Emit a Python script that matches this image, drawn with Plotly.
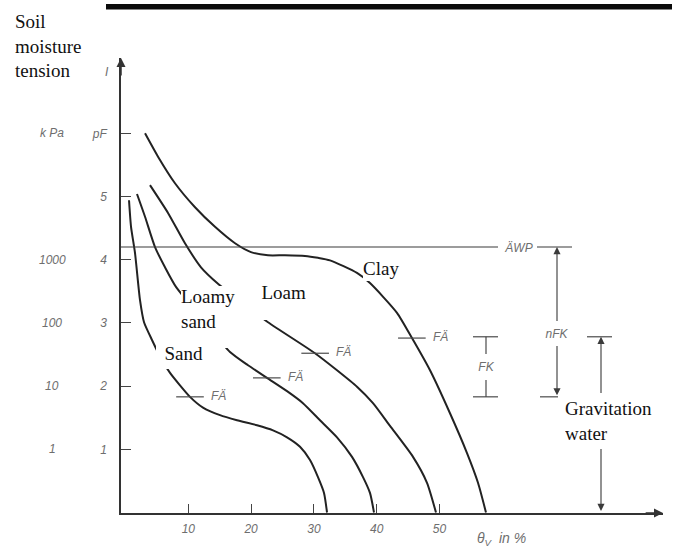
import plotly.graph_objects as go

# Water retention curves: volumetric water content (θv, %) against pF
sand_theta = [0.56, 0.88, 1.51, 2.31, 2.95, 4.22, 5.6, 7.09, 10.27, 12.34, 15.05, 17.75,
              20.94, 23.49, 25.72, 27.79, 29.38, 30.65, 31.61, 32.09]
sand_pf = [4.94, 4.52, 4.11, 3.36, 3.01, 2.73, 2.45, 2.21, 1.83, 1.66, 1.54, 1.46,
           1.38, 1.30, 1.19, 1.04, 0.83, 0.56, 0.31, 0.0]

loamy_sand_theta = [1.83, 3.11, 4.70, 6.29, 8.04, 12.66, 16.64, 19.51, 22.53, 25.72,
                    28.26, 30.97, 33.68, 36.07, 37.82, 38.93, 39.57]
loamy_sand_pf = [5.04, 4.68, 4.20, 3.88, 3.57, 3.01, 2.54, 2.33, 2.13, 1.92,
                 1.73, 1.46, 1.19, 0.88, 0.56, 0.31, 0.0]

loam_theta = [3.90, 6.77, 9.47, 12.02, 14.73, 18.71, 22.69, 30.17, 33.68, 36.86,
              39.41, 42.12, 45.78, 48.01, 49.44]
loam_pf = [5.18, 4.74, 4.26, 3.88, 3.62, 3.31, 3.01, 2.52, 2.25, 1.99,
           1.73, 1.37, 0.88, 0.47, 0.0]

clay_theta = [3.11, 5.18, 7.88, 11.07, 14.25, 17.44, 19.98, 22.69, 25.40, 28.58, 30.65,
              32.56, 36.86, 38.93, 43.23, 45.62, 48.49, 51.67, 54.38, 56.13, 57.40]
clay_pf = [6.00, 5.63, 5.21, 4.83, 4.52, 4.26, 4.12, 4.07, 4.07, 4.06, 4.03,
           3.99, 3.79, 3.63, 3.16, 2.76, 2.25, 1.57, 0.94, 0.47, 0.0]

# Field capacity (FÄ) points on each curve
fa_theta = [10.27, 22.5, 30.2, 45.6]
fa_pf = [1.83, 2.13, 2.52, 2.76]

# Reference levels (pF)
pf_awp = 4.2          # permanent wilting point
pf_fk_top = 2.78
pf_fk_bottom = 1.83

# Axis ticks
x_ticks = [10, 20, 30, 40, 50]
pf_ticks = [1, 2, 3, 4, 5, 6]
pf_tick_text = ["1", "2", "3", "4", "5", "pF"]
kpa_ticks = [1, 2, 3, 4]
kpa_text = ["1", "10", "100", "1000"]

# Canvas geometry (pixels) and conversion helpers for layout placement
W, H = 675, 552
ML, MR, MT, MB = 121, 12, 58, 39
X0, SX = 125.5, 6.28
Y0, SY = 512.5, 63.2


def tx(px):
    return (px - X0) / SX


def ty(py):
    return (Y0 - py) / SY


def paper_x(px):
    return (px - ML) / (W - ML - MR)


def paper_y(py):
    return (H - MB - py) / (H - MT - MB)


def pf_to_paper(pf):
    return paper_y(Y0 - pf * SY)


X_RANGE = [tx(ML), tx(W - MR)]
Y_RANGE = [ty(H - MB), ty(MT)]

CURVE = "#222222"
LINE = "#3a3a3a"
GREY_TXT = "#6e6e6e"
SERIF = "Liberation Serif, Times New Roman, serif"
SANS = "Liberation Sans, Arial, sans-serif"

fig = go.Figure()

for th, pf in [(sand_theta, sand_pf), (loamy_sand_theta, loamy_sand_pf),
               (loam_theta, loam_pf), (clay_theta, clay_pf)]:
    fig.add_trace(go.Scatter(
        x=th, y=pf, mode="lines",
        line=dict(color=CURVE, width=2, shape="spline", smoothing=0.6),
        hoverinfo="skip", showlegend=False))

FA_HALF = 2.2
for th, pf in zip(fa_theta, fa_pf):
    fig.add_trace(go.Scatter(
        x=[th - FA_HALF, th + FA_HALF], y=[pf, pf], mode="lines",
        line=dict(color="#4a4a4a", width=1.2),
        hoverinfo="skip", showlegend=False))

shapes = []


def hline(x0, x1, y, width=1.1, color=LINE):
    shapes.append(dict(type="line", xref="x", yref="y", x0=x0, x1=x1, y0=y, y1=y,
                       line=dict(color=color, width=width)))


def vline(x, y0, y1, width=1.1, color=LINE):
    shapes.append(dict(type="line", xref="x", yref="y", x0=x, x1=x, y0=y0, y1=y1,
                       line=dict(color=color, width=width)))


# Wilting point line (ÄWP), broken for its label
hline(X_RANGE[0], tx(498), pf_awp)
hline(tx(537), tx(572), pf_awp)

# FK bracket
fk_x = tx(486)
hline(tx(473), tx(498), pf_fk_top)
hline(tx(473), tx(498), pf_fk_bottom)
vline(fk_x, pf_fk_bottom, pf_fk_top)

# nFK bottom tick and gravitation water top tick
nfk_x = tx(557)
grav_x = tx(601)
hline(tx(540), tx(558), pf_fk_bottom)
hline(tx(587), tx(612), pf_fk_top)

# Black rule across the top
shapes.append(dict(type="rect", xref="paper", yref="paper",
                   x0=paper_x(106), x1=paper_x(672), y0=paper_y(9.5), y1=paper_y(4),
                   fillcolor="#0b0b0b", line=dict(width=0)))

annotations = []


def arrow(x, y, ax, ay, side="end", width=1.1, size=1.3, color=LINE):
    annotations.append(dict(x=x, y=y, ax=ax, ay=ay, xref="x", yref="y", axref="x", ayref="y",
                            text="", showarrow=True, arrowhead=2, startarrowhead=2,
                            arrowside=side, arrowsize=size, startarrowsize=size,
                            arrowwidth=width, arrowcolor=color, standoff=0, startstandoff=0))


# Axis arrowheads
arrow(X_RANGE[1], Y_RANGE[0], X_RANGE[1] - 3, Y_RANGE[0], width=1.5, size=1.2, color="#333")
arrow(X_RANGE[0], Y_RANGE[1], X_RANGE[0], Y_RANGE[1] - 0.3, width=1.5, size=1.2, color="#333")

# nFK and gravitation water double arrows
arrow(nfk_x, pf_awp, nfk_x, pf_fk_bottom, side="end+start")
arrow(grav_x, pf_fk_top, grav_x, 0.0, side="end+start")


def boxed(text, left, top, right, bottom, align="left", valign="middle",
          font_family=SERIF, size=19, color="#111", italic=False):
    f = dict(family=font_family, size=size, color=color)
    if italic:
        f["style"] = "italic"
    annotations.append(dict(
        text=text, x=tx(left), y=ty(top), xref="x", yref="y",
        xanchor="left", yanchor="top", width=right - left, height=bottom - top,
        align=align, valign=valign, showarrow=False, bgcolor="white",
        borderpad=0, borderwidth=0, font=f))


# Soil texture labels (white boxes break the curves behind them)
boxed("Loamy<br>sand", 181, 286, 250, 348, valign="top")
boxed("Loam", 249, 282, 306, 320, align="right", valign="top")
boxed("Sand", 156, 337, 203, 369, align="right")
boxed("Clay", 363, 255, 405, 281)
boxed("Gravitation<br>water", 565, 393, 662, 449)

# Small technical labels
boxed("ÄWP", 500, 239, 537, 256, align="center", font_family=SANS, size=12,
      color=GREY_TXT, italic=True)
boxed("FK", 478, 354, 495, 380, align="center", font_family=SANS, size=12,
      color=GREY_TXT, italic=True)
boxed("nFK", 543, 321, 571, 346, align="center", font_family=SANS, size=12,
      color=GREY_TXT, italic=True)

small = dict(family=SANS, size=12, color=GREY_TXT, style="italic")
for th, pf in zip(fa_theta, fa_pf):
    annotations.append(dict(text="FÄ", x=th + FA_HALF, y=pf, xref="x", yref="y",
                            xanchor="left", yanchor="middle", xshift=5, yshift=1,
                            showarrow=False, font=small))

# kPa scale beside the pF scale
for v, t in zip(kpa_ticks, kpa_text):
    annotations.append(dict(text=t, x=paper_x(52), y=pf_to_paper(v), xref="paper",
                            yref="paper", xanchor="center", yanchor="middle",
                            showarrow=False, font=small))
annotations.append(dict(text="k Pa", x=paper_x(52), y=pf_to_paper(6), xref="paper",
                        yref="paper", xanchor="center", yanchor="middle",
                        showarrow=False, font=small))
annotations.append(dict(text="I", x=paper_x(107), y=paper_y(72), xref="paper",
                        yref="paper", xanchor="center", yanchor="middle",
                        showarrow=False, font=small))

# Axis titles
annotations.append(dict(text="θ<sub>V</sub>  in %", x=paper_x(501), y=paper_y(539),
                        xref="paper", yref="paper", xanchor="center", yanchor="middle",
                        showarrow=False,
                        font=dict(family=SANS, size=14, color=GREY_TXT, style="italic")))
annotations.append(dict(text="Soil<br>moisture<br>tension", x=paper_x(13), y=paper_y(46),
                        xref="paper", yref="paper", xanchor="left", yanchor="middle",
                        align="left", showarrow=False,
                        font=dict(family=SERIF, size=19, color="#111")))

fig.update_layout(
    width=W, height=H,
    margin=dict(l=ML, r=MR, t=MT, b=MB),
    paper_bgcolor="white", plot_bgcolor="white",
    showlegend=False,
    shapes=shapes,
    annotations=annotations,
    xaxis=dict(range=X_RANGE, showgrid=False, zeroline=False,
               showline=True, linecolor="#333", linewidth=1.5,
               tickmode="array", tickvals=x_ticks, ticktext=[str(v) for v in x_ticks],
               ticks="inside", ticklen=9, tickwidth=1, tickcolor="#444",
               ticklabelstandoff=4,
               tickfont=dict(family=SANS, size=12, color=GREY_TXT, style="italic")),
    yaxis=dict(range=Y_RANGE, showgrid=False, zeroline=False,
               showline=True, linecolor="#333", linewidth=1.5,
               tickmode="array", tickvals=pf_ticks, ticktext=pf_tick_text,
               ticks="inside", ticklen=10, tickwidth=1, tickcolor="#444",
               ticklabelstandoff=10,
               tickfont=dict(family=SANS, size=12, color=GREY_TXT, style="italic")),
)

fig.write_html("out.html")
